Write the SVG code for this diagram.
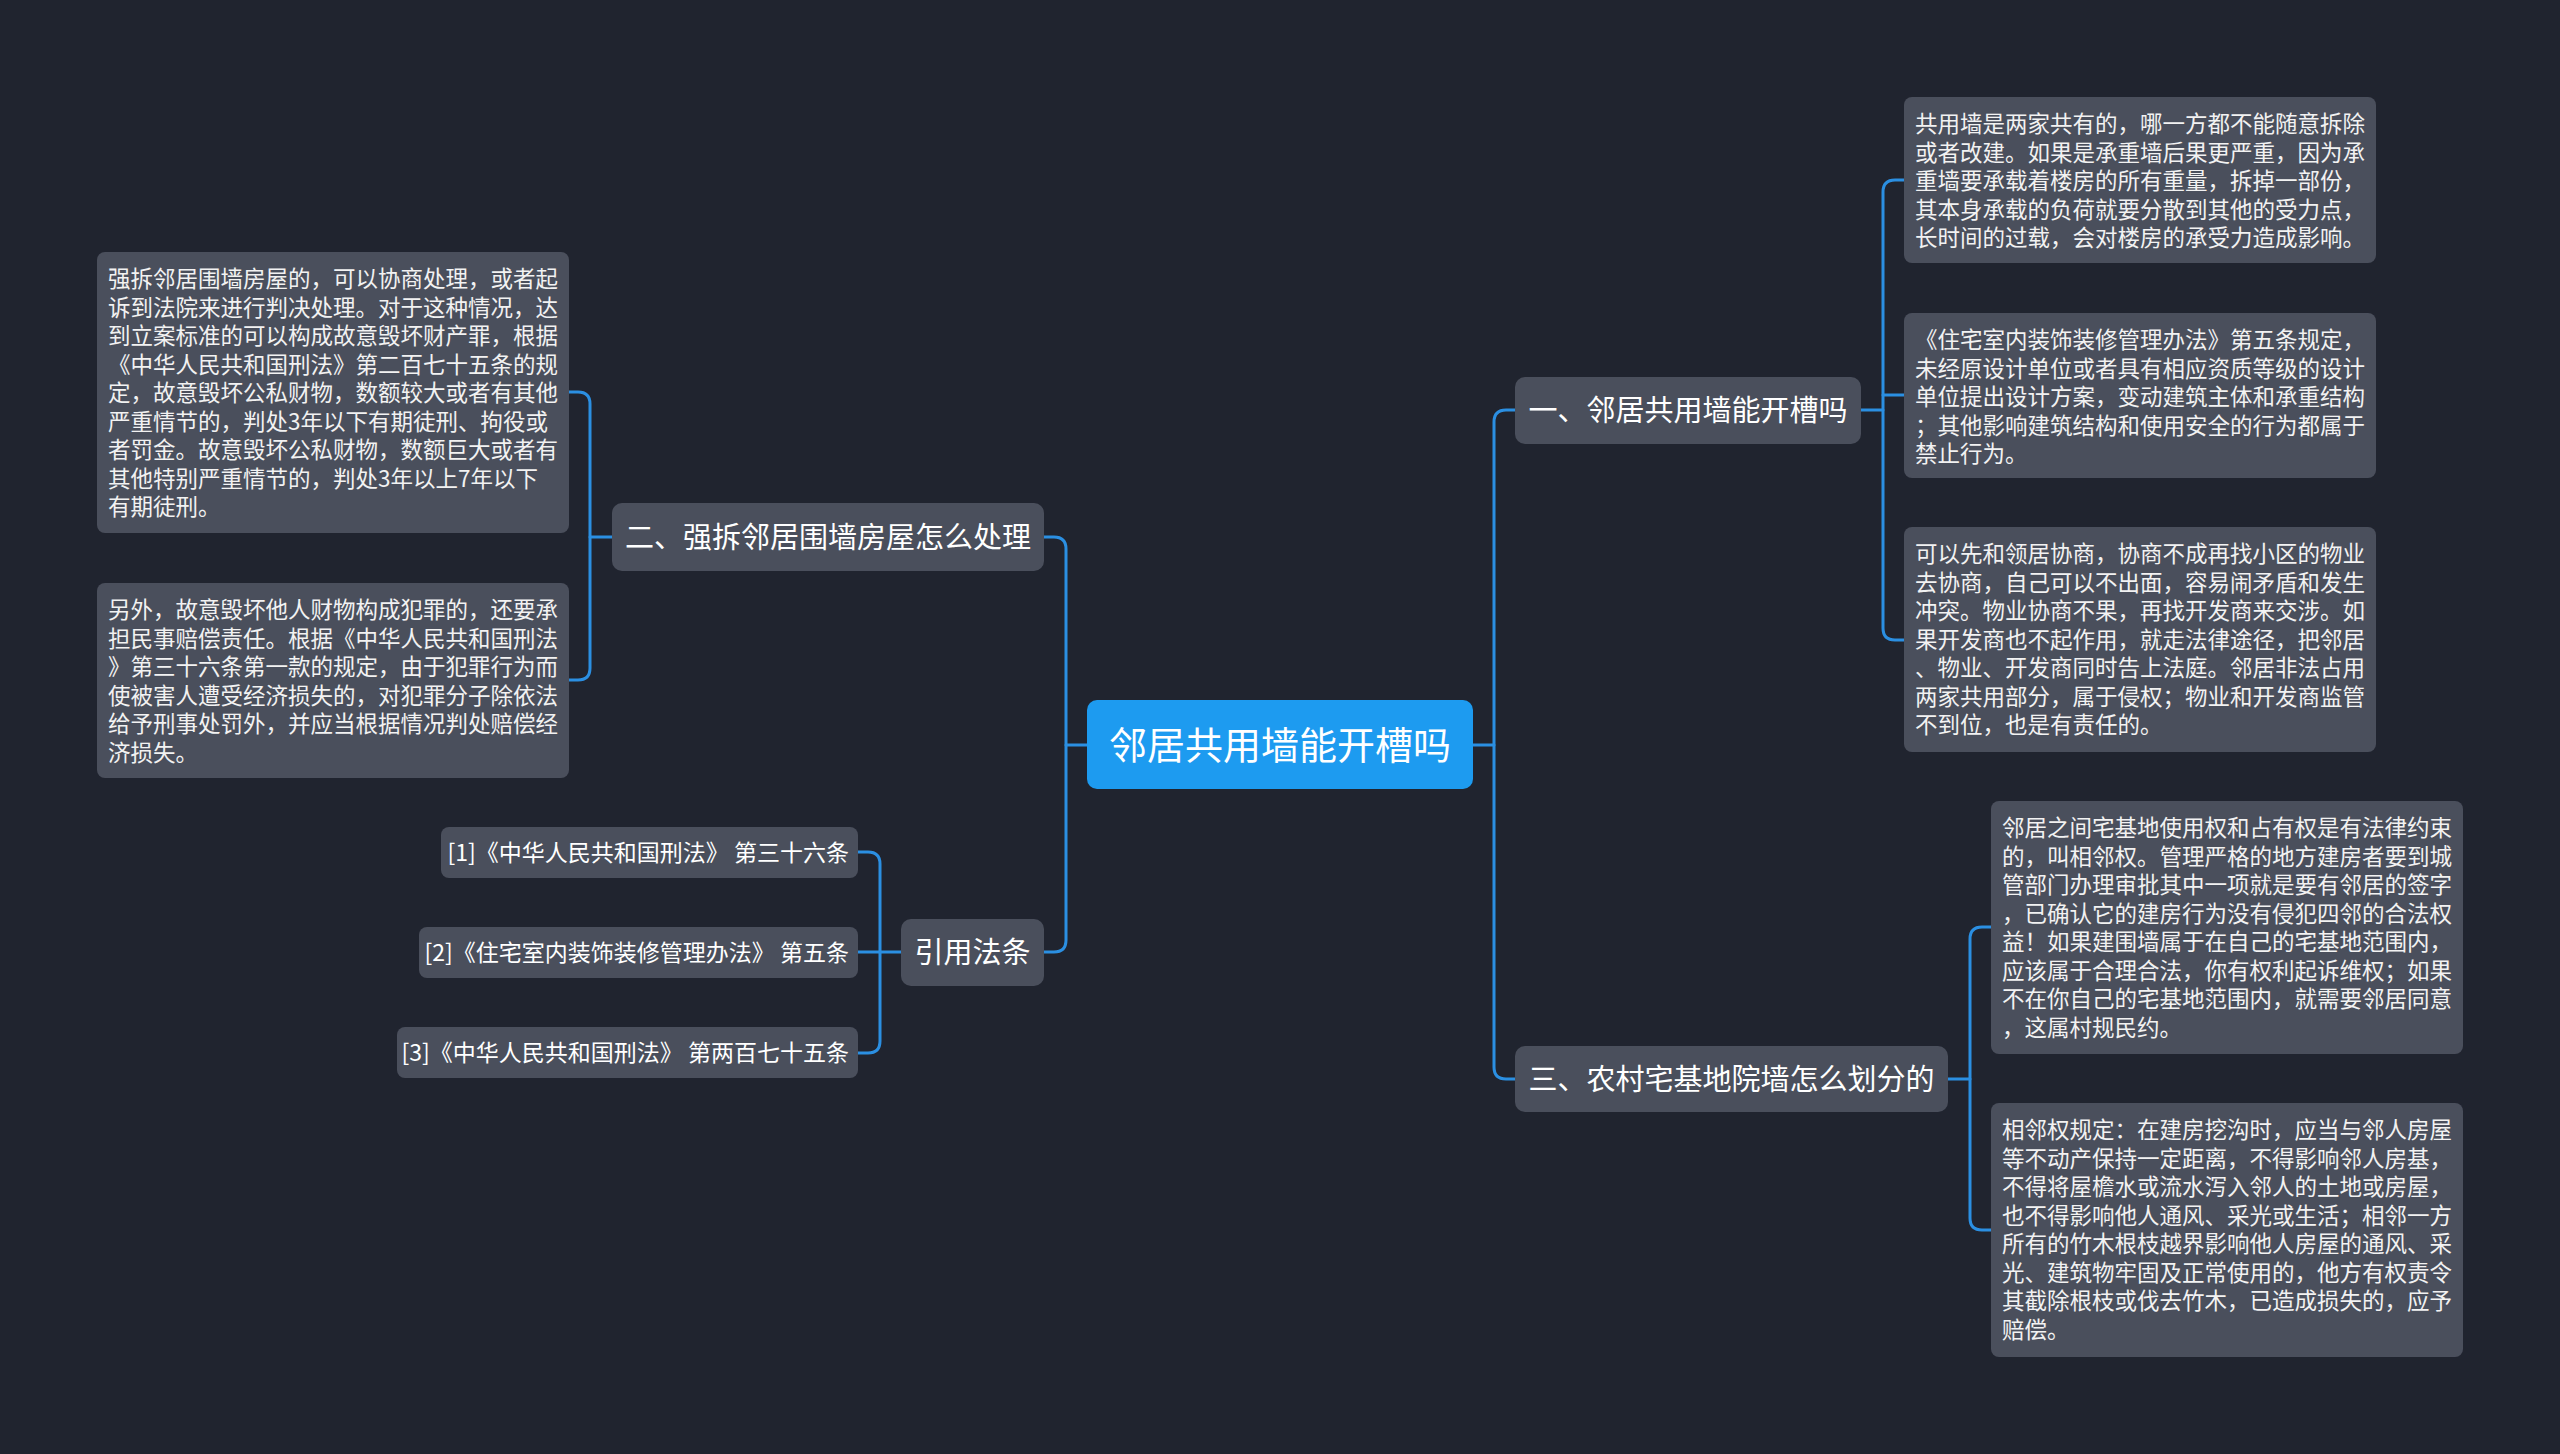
<svg xmlns="http://www.w3.org/2000/svg" width="2560" height="1454" viewBox="0 0 2560 1454">
<style>
.bg{fill:#20242f}
.node{fill:#4a4f5c}
.root{fill:#1d9bf0}
.conn{fill:none;stroke:#2b8fe2;stroke-width:3;stroke-linecap:round}
.t{font-family:"Noto Sans CJK SC","Noto Sans",sans-serif;fill:#ffffff}
.lbl{font-size:29px;text-anchor:middle}
.rl{font-size:38px;text-anchor:middle}
.cit{font-size:23px;text-anchor:end}
.body{font-size:22.5px;fill:#f2f2f2}
</style>
<rect class="bg" x="0" y="0" width="2560" height="1454"/>
<g id="connectors">
<path class="conn" d="M1087,745 H1066"/>
<path class="conn" d="M1044,537 H1054 Q1066,537 1066,549 V940 Q1066,952 1054,952 H1044"/>
<path class="conn" d="M1473,745 H1494"/>
<path class="conn" d="M1515,410 H1506 Q1494,410 1494,422 V1067 Q1494,1079 1506,1079 H1515"/>
<path class="conn" d="M1861,410 H1883"/>
<path class="conn" d="M1904,180 H1895 Q1883,180 1883,192 V628 Q1883,640 1895,640 H1904"/>
<path class="conn" d="M1883,395 H1904"/>
<path class="conn" d="M1948,1079 H1970"/>
<path class="conn" d="M1991,927 H1982 Q1970,927 1970,939 V1218 Q1970,1230 1982,1230 H1991"/>
<path class="conn" d="M612,537 H590"/>
<path class="conn" d="M569,392 H578 Q590,392 590,404 V668 Q590,680 578,680 H569"/>
<path class="conn" d="M901,952 H880"/>
<path class="conn" d="M858,852 H868 Q880,852 880,864 V1041 Q880,1053 868,1053 H858"/>
<path class="conn" d="M858,952 H880"/>
</g>
<g id="root">
<rect class="root" x="1087" y="700" width="386" height="89" rx="10"/>
<text class="t rl" x="1280" y="759">邻居共用墙能开槽吗</text>
</g>
<g id="n1">
<rect class="node" x="1515" y="377" width="346" height="67" rx="10"/>
<text class="t lbl" x="1688" y="421">一、邻居共用墙能开槽吗</text>
</g>
<g id="n3">
<rect class="node" x="1515" y="1046" width="433" height="66" rx="10"/>
<text class="t lbl" x="1731.5" y="1090">三、农村宅基地院墙怎么划分的</text>
</g>
<g id="n2">
<rect class="node" x="612" y="503" width="432" height="68" rx="10"/>
<text class="t lbl" x="828" y="548">二、强拆邻居围墙房屋怎么处理</text>
</g>
<g id="n4">
<rect class="node" x="901" y="919" width="143" height="67" rx="10"/>
<text class="t lbl" x="972.5" y="963">引用法条</text>
</g>
<g id="c1">
<rect class="node" x="441" y="827" width="417" height="51" rx="8"/>
<text class="t cit" x="849" y="861">[1]《中华人民共和国刑法》 第三十六条</text>
</g>
<g id="c2">
<rect class="node" x="419" y="927" width="439" height="51" rx="8"/>
<text class="t cit" x="849" y="961">[2]《住宅室内装饰装修管理办法》 第五条</text>
</g>
<g id="c3">
<rect class="node" x="397" y="1027" width="461" height="51" rx="8"/>
<text class="t cit" x="849" y="1061">[3]《中华人民共和国刑法》 第两百七十五条</text>
</g>
<g id="bA">
<rect class="node" x="1904" y="97" width="472" height="166" rx="8"/>
<text class="t body" x="1915" y="132">
<tspan x="1915" dy="0">共用墙是两家共有的，哪一方都不能随意拆除</tspan>
<tspan x="1915" dy="28.5">或者改建。如果是承重墙后果更严重，因为承</tspan>
<tspan x="1915" dy="28.5">重墙要承载着楼房的所有重量，拆掉一部份，</tspan>
<tspan x="1915" dy="28.5">其本身承载的负荷就要分散到其他的受力点，</tspan>
<tspan x="1915" dy="28.5">长时间的过载，会对楼房的承受力造成影响。</tspan>
</text>
</g>
<g id="bB">
<rect class="node" x="1904" y="313" width="472" height="165" rx="8"/>
<text class="t body" x="1915" y="348">
<tspan x="1915" dy="0">《住宅室内装饰装修管理办法》第五条规定，</tspan>
<tspan x="1915" dy="28.5">未经原设计单位或者具有相应资质等级的设计</tspan>
<tspan x="1915" dy="28.5">单位提出设计方案，变动建筑主体和承重结构</tspan>
<tspan x="1915" dy="28.5">；其他影响建筑结构和使用安全的行为都属于</tspan>
<tspan x="1915" dy="28.5">禁止行为。</tspan>
</text>
</g>
<g id="bC">
<rect class="node" x="1904" y="527" width="472" height="225" rx="8"/>
<text class="t body" x="1915" y="562">
<tspan x="1915" dy="0">可以先和领居协商，协商不成再找小区的物业</tspan>
<tspan x="1915" dy="28.5">去协商，自己可以不出面，容易闹矛盾和发生</tspan>
<tspan x="1915" dy="28.5">冲突。物业协商不果，再找开发商来交涉。如</tspan>
<tspan x="1915" dy="28.5">果开发商也不起作用，就走法律途径，把邻居</tspan>
<tspan x="1915" dy="28.5">、物业、开发商同时告上法庭。邻居非法占用</tspan>
<tspan x="1915" dy="28.5">两家共用部分，属于侵权；物业和开发商监管</tspan>
<tspan x="1915" dy="28.5">不到位，也是有责任的。</tspan>
</text>
</g>
<g id="bD">
<rect class="node" x="1991" y="801" width="472" height="253" rx="8"/>
<text class="t body" x="2002" y="836">
<tspan x="2002" dy="0">邻居之间宅基地使用权和占有权是有法律约束</tspan>
<tspan x="2002" dy="28.5">的，叫相邻权。管理严格的地方建房者要到城</tspan>
<tspan x="2002" dy="28.5">管部门办理审批其中一项就是要有邻居的签字</tspan>
<tspan x="2002" dy="28.5">，已确认它的建房行为没有侵犯四邻的合法权</tspan>
<tspan x="2002" dy="28.5">益！如果建围墙属于在自己的宅基地范围内，</tspan>
<tspan x="2002" dy="28.5">应该属于合理合法，你有权利起诉维权；如果</tspan>
<tspan x="2002" dy="28.5">不在你自己的宅基地范围内，就需要邻居同意</tspan>
<tspan x="2002" dy="28.5">，这属村规民约。</tspan>
</text>
</g>
<g id="bE">
<rect class="node" x="1991" y="1103" width="472" height="254" rx="8"/>
<text class="t body" x="2002" y="1138">
<tspan x="2002" dy="0">相邻权规定：在建房挖沟时，应当与邻人房屋</tspan>
<tspan x="2002" dy="28.5">等不动产保持一定距离，不得影响邻人房基，</tspan>
<tspan x="2002" dy="28.5">不得将屋檐水或流水泻入邻人的土地或房屋，</tspan>
<tspan x="2002" dy="28.5">也不得影响他人通风、采光或生活；相邻一方</tspan>
<tspan x="2002" dy="28.5">所有的竹木根枝越界影响他人房屋的通风、采</tspan>
<tspan x="2002" dy="28.5">光、建筑物牢固及正常使用的，他方有权责令</tspan>
<tspan x="2002" dy="28.5">其截除根枝或伐去竹木，已造成损失的，应予</tspan>
<tspan x="2002" dy="28.5">赔偿。</tspan>
</text>
</g>
<g id="bF">
<rect class="node" x="97" y="252" width="472" height="281" rx="8"/>
<text class="t body" x="108" y="287">
<tspan x="108" dy="0">强拆邻居围墙房屋的，可以协商处理，或者起</tspan>
<tspan x="108" dy="28.5">诉到法院来进行判决处理。对于这种情况，达</tspan>
<tspan x="108" dy="28.5">到立案标准的可以构成故意毁坏财产罪，根据</tspan>
<tspan x="108" dy="28.5">《中华人民共和国刑法》第二百七十五条的规</tspan>
<tspan x="108" dy="28.5">定，故意毁坏公私财物，数额较大或者有其他</tspan>
<tspan x="108" dy="28.5">严重情节的，判处3年以下有期徒刑、拘役或</tspan>
<tspan x="108" dy="28.5">者罚金。故意毁坏公私财物，数额巨大或者有</tspan>
<tspan x="108" dy="28.5">其他特别严重情节的，判处3年以上7年以下</tspan>
<tspan x="108" dy="28.5">有期徒刑。</tspan>
</text>
</g>
<g id="bG">
<rect class="node" x="97" y="583" width="472" height="195" rx="8"/>
<text class="t body" x="108" y="618">
<tspan x="108" dy="0">另外，故意毁坏他人财物构成犯罪的，还要承</tspan>
<tspan x="108" dy="28.5">担民事赔偿责任。根据《中华人民共和国刑法</tspan>
<tspan x="108" dy="28.5">》第三十六条第一款的规定，由于犯罪行为而</tspan>
<tspan x="108" dy="28.5">使被害人遭受经济损失的，对犯罪分子除依法</tspan>
<tspan x="108" dy="28.5">给予刑事处罚外，并应当根据情况判处赔偿经</tspan>
<tspan x="108" dy="28.5">济损失。</tspan>
</text>
</g>
</svg>
